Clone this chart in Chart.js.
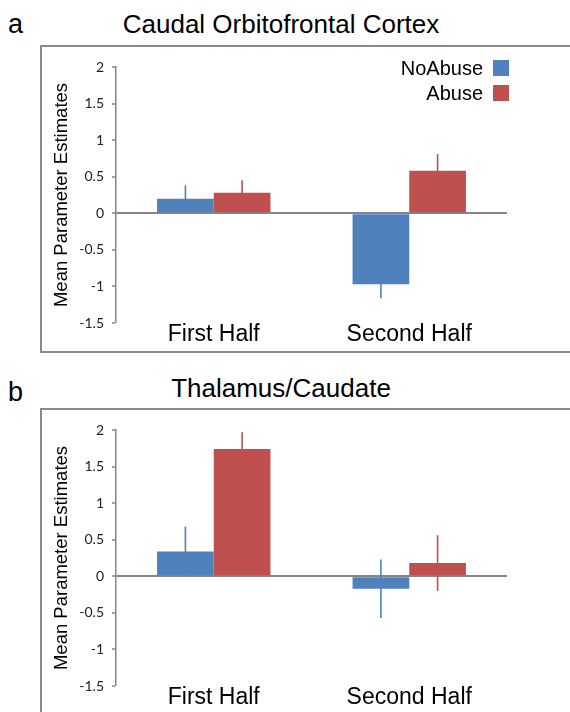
<!DOCTYPE html>
<html>
<head>
<meta charset="utf-8">
<script src="https://cdn.jsdelivr.net/npm/chart.js@4.4.1/dist/chart.umd.min.js"></script>
<style>
  body { margin: 0; background: #fff; width: 570px; height: 712px; overflow: hidden; position: relative; font-family: "Liberation Sans", Arial, sans-serif; }
  .letter { position: absolute; font-size: 27px; line-height: 27px; color: #000; }
  .title { position: absolute; font-size: 26px; line-height: 26px; color: #000; white-space: nowrap; transform: translateX(-50%); }
  .box { position: absolute; left: 40px; width: 540px; height: 308px; border: 2px solid #8a8a8a; box-sizing: border-box; }
  canvas { position: absolute; }
</style>
</head>
<body>
<div class="letter" style="left:8px; top:11px;">a</div>
<div class="title" style="left:281px; top:11px;">Caudal Orbitofrontal Cortex</div>
<div class="box" style="top:45px;"></div>
<canvas id="chartA" width="528" height="304" style="left:42px; top:47px;"></canvas>

<div class="letter" style="left:8px; top:379px;">b</div>
<div class="title" style="left:281px; top:375px;">Thalamus/Caudate</div>
<div class="box" style="top:408px;"></div>
<canvas id="chartB" width="528" height="304" style="left:42px; top:410px;"></canvas>

<script>
// categories + tick labels
const categories = ['First Half', 'Second Half'];
const yTicks = [2, 1.5, 1, 0.5, 0, -0.5, -1, -1.5];
const seriesNames = ['NoAbuse', 'Abuse'];
const seriesColors = ['#4f81bd', '#c0504d'];

// a: Caudal Orbitofrontal Cortex
const ofcNoAbuse = [0.20, -0.97];
const ofcNoAbuseErr = [0.18, 0.19];
const ofcAbuse = [0.28, 0.58];
const ofcAbuseErr = [0.17, 0.23];

// b: Thalamus/Caudate
const thalNoAbuse = [0.34, -0.17];
const thalNoAbuseErr = [0.34, 0.40];
const thalAbuse = [1.74, 0.18];
const thalAbuseErr = [0.23, 0.38];

// one-sided look: drawn behind the bars so the inner half is hidden
const errorBars = {
    id: 'errorBars',
    beforeDatasetsDraw(chart) {
        const ctx = chart.ctx;
        const y = chart.scales.y;
        chart.data.datasets.forEach((ds, i) => {
            const meta = chart.getDatasetMeta(i);
            ctx.save();
            ctx.strokeStyle = ds.backgroundColor;
            ctx.lineWidth = 1.6;
            meta.data.forEach((bar, j) => {
                const v = ds.data[j], e = ds.err[j];
                ctx.beginPath();
                ctx.moveTo(bar.x, y.getPixelForValue(v + e));
                ctx.lineTo(bar.x, y.getPixelForValue(v - e));
                ctx.stroke();
            });
            ctx.restore();
        });
    }
};

// legend in the top-right corner, text left of the swatch
const cornerLegend = {
    id: 'cornerLegend',
    afterDraw(chart, args, opts) {
        if (!opts.show) return;
        const ctx = chart.ctx;
        const right = chart.chartArea.right;
        ctx.save();
        ctx.font = '20px "Liberation Sans", Arial, sans-serif';
        ctx.textAlign = 'right';
        ctx.textBaseline = 'middle';
        chart.data.datasets.forEach((ds, i) => {
            const cy = 21 + i * 25;
            ctx.fillStyle = ds.backgroundColor;
            ctx.fillRect(right - 14, cy - 8, 16, 16);
            ctx.fillStyle = '#000';
            ctx.fillText(ds.label, right - 24, cy + 1);
        });
        ctx.restore();
    }
};

function makeChart(id, noAbuse, noAbuseErr, abuse, abuseErr, showLegend) {
    return new Chart(document.getElementById(id), {
        type: 'bar',
        data: {
            labels: categories,
            datasets: [
                { label: seriesNames[0], data: noAbuse, err: noAbuseErr, backgroundColor: seriesColors[0] },
                { label: seriesNames[1], data: abuse, err: abuseErr, backgroundColor: seriesColors[1] }
            ]
        },
        options: {
            responsive: false,
            animation: false,
            events: [],
            layout: { padding: { top: 20, right: 63, left: 0, bottom: 0 } },
            datasets: { bar: { categoryPercentage: 0.58, barPercentage: 1.0 } },
            plugins: {
                legend: { display: false },
                tooltip: { enabled: false },
                cornerLegend: { show: showLegend }
            },
            scales: {
                x: {
                    grid: { display: false, drawTicks: false },
                    border: { display: false },
                    ticks: { color: '#000', padding: -2, font: { family: '"Liberation Sans", Arial, sans-serif', size: 23 } },
                    afterFit: s => { s.height = 28; }
                },
                y: {
                    min: -1.5, max: 2,
                    z: 1,
                    afterBuildTicks: s => { s.ticks = yTicks.map(v => ({ value: v })); },
                    afterFit: s => { s.width = 74; },
                    border: { display: true, color: '#868686', width: 1.5 },
                    grid: {
                        drawOnChartArea: true,
                        color: c => c.tick && c.tick.value === 0 ? '#868686' : 'rgba(0,0,0,0)',
                        lineWidth: c => c.tick && c.tick.value === 0 ? 2 : 0,
                        tickColor: '#868686',
                        tickWidth: 1.5,
                        tickLength: 4
                    },
                    ticks: {
                        color: '#222', padding: 8,
                        font: { family: 'Lato, "Liberation Sans", sans-serif', size: 14 },
                        callback: v => String(v)
                    },
                    title: {
                        display: true, text: 'Mean Parameter Estimates', color: '#000',
                        padding: { top: 9, bottom: 0 },
                        font: { family: '"Liberation Sans", Arial, sans-serif', size: 18.5 }
                    }
                }
            }
        },
        plugins: [errorBars, cornerLegend]
    });
}

makeChart('chartA', ofcNoAbuse, ofcNoAbuseErr, ofcAbuse, ofcAbuseErr, true);
makeChart('chartB', thalNoAbuse, thalNoAbuseErr, thalAbuse, thalAbuseErr, false);
</script>
</body>
</html>
